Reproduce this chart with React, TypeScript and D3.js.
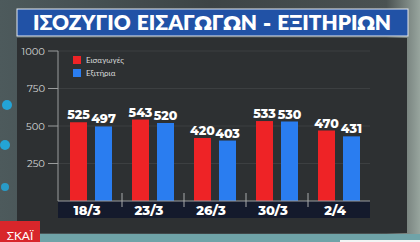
import * as d3 from "d3";

const categories = ["18/3", "23/3", "26/3", "30/3", "2/4"];
const admissions = [525, 543, 420, 533, 470];
const discharges = [497, 520, 403, 530, 431];
const yTicks = [250, 500, 750, 1000];
const seriesNames = ["Εισαγωγές", "Εξιτήρια"];

const W = 420;
const H = 242;
const RED = "#ee2326";
const BLUE = "#2a7df0";
const FONT = "Montserrat, Lato, 'Open Sans', 'Noto Sans', sans-serif";

export default function App() {
  const plotLeft = 58;
  const plotRight = 370;
  const baseY = 201;

  const x = d3.scaleBand().domain(categories).range([plotLeft + 2, plotRight]).paddingInner(0).paddingOuter(0);
  const inner = d3.scaleBand().domain(["a", "d"]).range([0, x.bandwidth()]).paddingInner(0.32).paddingOuter(0.4);
  const y = d3.scaleLinear().domain([0, 1000]).range([baseY, 51]);

  const rows = categories.map((c, i) => ({ c, a: admissions[i], d: discharges[i] }));

  return (
    <svg width={W} height={H} style={{ position: "fixed", left: 0, top: 0, display: "block" }}>
      <defs>
        <linearGradient id="bg" x1="0" x2="1" y1="0" y2="0">
          <stop offset="0" stopColor="#4d5a5c" />
          <stop offset="0.5" stopColor="#3d4446" />
          <stop offset="0.92" stopColor="#4a5252" />
          <stop offset="1" stopColor="#98a59e" />
        </linearGradient>
      </defs>
      <rect width={W} height={H} fill="url(#bg)" />
      {/* blurry blue lights on the left */}
      <circle cx={7} cy={105} r={5} fill="#19b6f5" opacity={0.8} />
      <circle cx={5} cy={145} r={5} fill="#19b6f5" opacity={0.8} />
      <circle cx={5} cy={187} r={4} fill="#19b6f5" opacity={0.7} />

      {/* panel */}
      <rect x={17} y={38} width={390} height={195} fill="#2d3032" />

      {/* title */}
      <rect x={17} y={9} width={391} height={27} fill="#2152a6" stroke="#e6e9ef" strokeWidth={1} />
      <text x={212} y={30} textAnchor="middle" fill="#fff" fontFamily={FONT} fontWeight={800} fontSize={20} textLength={358} lengthAdjust="spacingAndGlyphs">
        ΙΣΟΖΥΓΙΟ ΕΙΣΑΓΩΓΩΝ - ΕΞΙΤΗΡΙΩΝ
      </text>

      {/* gridlines */}
      {yTicks.map((t) => (
        <line key={"g" + t} x1={plotLeft} x2={plotRight} y1={y(t)} y2={y(t)} stroke="#fff" opacity={0.07} />
      ))}

      {/* y axis */}
      <line x1={plotLeft} x2={plotLeft} y1={y(1000)} y2={baseY} stroke="#9a9c9d" strokeWidth={1} />
      {yTicks.map((t) => (
        <g key={t}>
          <line x1={48} x2={plotLeft} y1={y(t)} y2={y(t)} stroke="#9a9c9d" />
          <text x={45} y={y(t)} dy="0.35em" textAnchor="end" fill="#d4d6d6" fontFamily={FONT} fontSize={10}>
            {t}
          </text>
        </g>
      ))}

      {/* legend */}
      {seriesNames.map((s, i) => (
        <g key={s} transform={`translate(73,${56 + i * 13})`}>
          <rect width={8} height={8} fill={i === 0 ? RED : BLUE} />
          <text x={13} y={4} dy="0.35em" fill="#d8dada" fontFamily={FONT} fontSize={8}>
            {s}
          </text>
        </g>
      ))}

      {/* bars */}
      {rows.map((r) => {
        const gx = x(r.c) as number;
        return (
          <g key={r.c} transform={`translate(${gx},0)`}>
            {([["a", r.a, RED], ["d", r.d, BLUE]] as [string, number, string][]).map(([k, v, col]) => {
              const bx = inner(k) as number;
              return (
                <g key={k}>
                  <rect x={bx} y={y(v)} width={inner.bandwidth()} height={baseY - y(v)} fill={col} />
                  <text x={bx + inner.bandwidth() / 2} y={y(v) - 3} textAnchor="middle" fill="#fff" fontFamily={FONT} fontWeight={800} fontSize={12.5}>
                    {v}
                  </text>
                </g>
              );
            })}
          </g>
        );
      })}

      {/* x axis strip */}
      <rect x={plotLeft} y={baseY} width={plotRight - plotLeft} height={17} fill="#141a2c" />
      <line x1={plotLeft} x2={plotRight} y1={baseY} y2={baseY} stroke="#9a9c9d" />
      {categories.slice(1).map((c) => (
        <line key={"s" + c} x1={x(c) as number} x2={x(c) as number} y1={193} y2={207} stroke="#a8aaab" />
      ))}
      {categories.map((c) => (
        <text key={"l" + c} x={(x(c) as number) + x.bandwidth() / 2 - 4} y={baseY + 13.5} textAnchor="middle" fill="#fff" fontFamily={FONT} fontWeight={800} fontSize={13}>
          {c}
        </text>
      ))}

      {/* bottom strip & logo */}
      <rect x={0} y={234} width={W} height={8} fill="#6fa3a8" />
      <rect x={340} y={240} width={80} height={2} fill="#f2f4f4" />
      <rect x={0} y={221} width={40} height={21} fill="#d8262b" />
      <text x={20} y={240} textAnchor="middle" fill="#fff" fontFamily={FONT} fontSize={12}>
        ΣΚΑΪ
      </text>
    </svg>
  );
}
